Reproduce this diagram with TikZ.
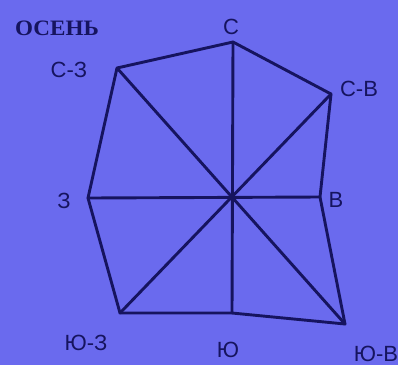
\documentclass[tikz,border=0pt]{standalone}
\usepackage{fontspec}
\setmainfont{Liberation Sans}
\newfontfamily\titlefont{Liberation Serif}
\definecolor{bg}{RGB}{106,106,238}
\definecolor{ink}{RGB}{22,20,95}
\begin{document}
\begin{tikzpicture}[x=1pt,y=-1pt,
  edge/.style={draw=ink,line width=2.9pt,line join=round,line cap=round},
  lbl/.style={text=ink,font=\fontsize{22}{22}\selectfont,inner sep=0pt}]
\fill[bg] (0,0) rectangle (398,365);
\useasboundingbox (0,0) rectangle (398,365);
\coordinate (N) at (233,42);
\coordinate (NE) at (331,94);
\coordinate (E) at (320,197);
\coordinate (SE) at (345,324);
\coordinate (S) at (232,313);
\coordinate (SW) at (120,313);
\coordinate (W) at (88,198);
\coordinate (NW) at (117,68);
\coordinate (O) at (232,197);
\draw[edge] (N) -- (NE) -- (E) -- (SE) -- (S) -- (SW) -- (W) -- (NW) -- cycle;
\draw[edge] (N) -- (S);
\draw[edge] (W) -- (E);
\draw[edge] (NW) -- (SE);
\draw[edge] (NE) -- (SW);
\node[text=ink,inner sep=0pt,font=\titlefont\bfseries\fontsize{22}{22}\selectfont,xscale=1.05] (t) at (57,28) {ОСЕНЬ};
\node[lbl] (lN) at (231,27) {С};
\node[lbl] (lNE) at (359,89) {С-В};
\node[lbl] (lE) at (336,200) {В};
\node[lbl] (lSE) at (376,354) {Ю-В};
\node[lbl] (lS) at (228,350) {Ю};
\node[lbl] (lSW) at (86,343) {Ю-З};
\node[lbl] (lW) at (64,201) {З};
\node[lbl] (lNW) at (69,70) {С-З};
\end{tikzpicture}
\end{document}
